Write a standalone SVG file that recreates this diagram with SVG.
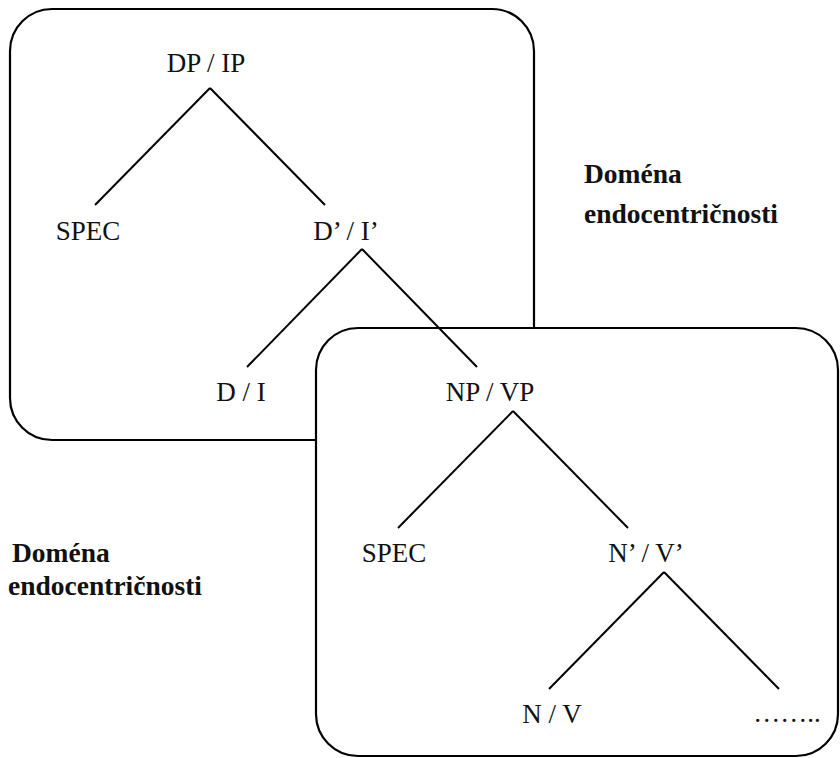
<svg xmlns="http://www.w3.org/2000/svg" width="840" height="758" viewBox="0 0 840 758">
<style>
.box{fill:#fff;stroke:#000;stroke-width:2.2}
.edge{stroke:#000;stroke-width:2;fill:none}
.lbl{font-family:"Liberation Serif","DejaVu Serif",serif;font-size:27px;fill:#111;text-anchor:middle}
.dom{font-family:"Liberation Serif","DejaVu Serif",serif;font-size:27.5px;font-weight:bold;fill:#111}
</style>
<rect width="840" height="758" fill="#fff"/>
<g id="domain-upper"><rect class="box" x="10" y="9" width="524" height="431" rx="42" ry="42"/></g>
<g id="domain-lower"><rect class="box" x="316" y="328" width="522" height="428" rx="42" ry="42"/></g>
<g id="connectors">
<line class="edge" x1="210" y1="88" x2="95" y2="205"/>
<line class="edge" x1="210" y1="88" x2="325" y2="205"/>
<line class="edge" x1="362" y1="249" x2="247" y2="367"/>
<line class="edge" x1="362" y1="249" x2="477" y2="367"/>
<line class="edge" x1="513" y1="411" x2="398" y2="528"/>
<line class="edge" x1="513" y1="411" x2="628" y2="528"/>
<line class="edge" x1="664" y1="572" x2="549" y2="689"/>
<line class="edge" x1="664" y1="572" x2="779" y2="689"/>
</g>
<g id="n-dpip"><text class="lbl" x="206" y="72">DP / IP</text></g>
<g id="n-spec1"><text class="lbl" x="88" y="240">SPEC</text></g>
<g id="n-dbar"><text class="lbl" x="346" y="240">D’ / I’</text></g>
<g id="n-di"><text class="lbl" x="241" y="401">D / I</text></g>
<g id="n-npvp"><text class="lbl" x="490" y="401">NP / VP</text></g>
<g id="n-spec2"><text class="lbl" x="394" y="562">SPEC</text></g>
<g id="n-nbar"><text class="lbl" x="646" y="562">N’ / V’</text></g>
<g id="n-nv"><text class="lbl" x="552" y="723">N / V</text></g>
<g id="n-dots"><text class="lbl" x="787" y="722">……..</text></g>
<g id="label-right"><text class="dom" x="584" y="183">Doména</text><text class="dom" x="584" y="223">endocentričnosti</text></g>
<g id="label-left"><text class="dom" x="12" y="562">Doména</text><text class="dom" x="8" y="595">endocentričnosti</text></g>
</svg>
